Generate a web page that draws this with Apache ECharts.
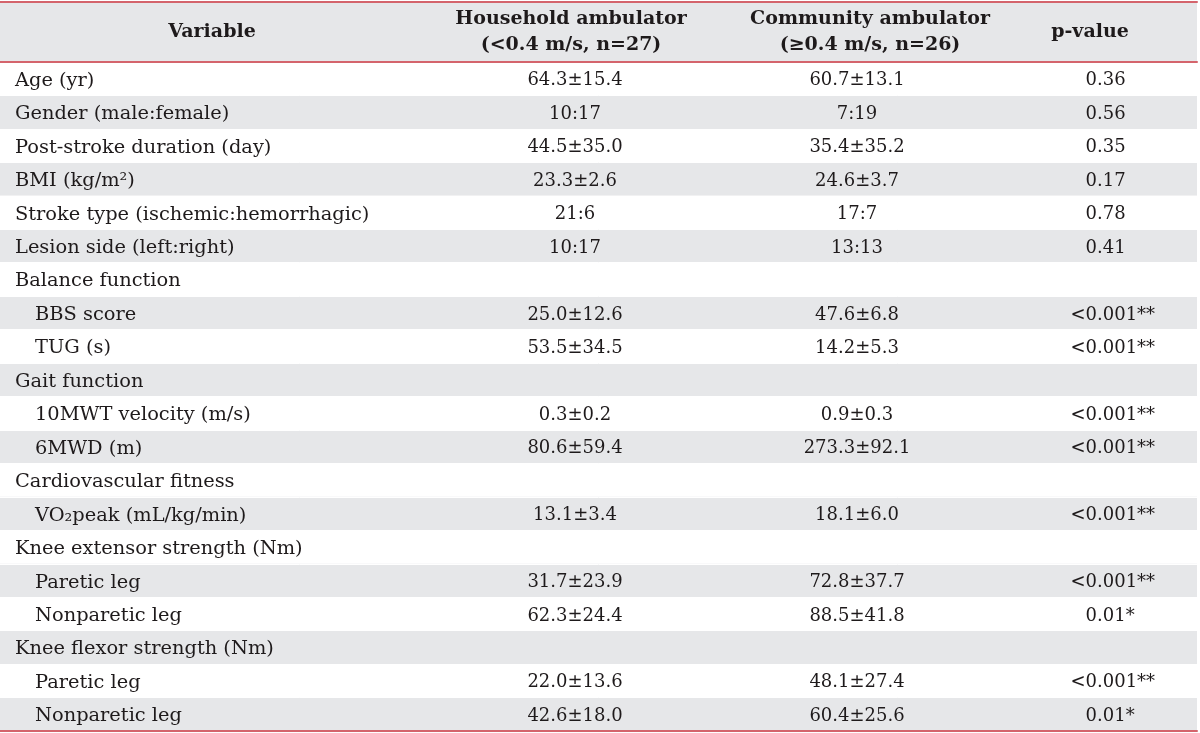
<!DOCTYPE html>
<html>
<head>
<meta charset="utf-8">
<script src="https://cdn.jsdelivr.net/npm/echarts@6/dist/echarts.min.js"></script>
<style>
html,body{margin:0;padding:0;background:#fff;}
#chart{width:1200px;height:733px;}
</style>
</head>
<body>
<div id="chart"></div>
<script>
// ---- Data ----
const headerVariable = ['Variable'];
const headerHousehold = ['Household ambulator', '(<0.4 m/s, n=27)'];
const headerCommunity = ['Community ambulator', '(≥0.4 m/s, n=26)'];
const headerPValue = ['p-value'];

const variables = [
  'Age (yr)', 'Gender (male:female)', 'Post-stroke duration (day)', 'BMI (kg/m²)',
  'Stroke type (ischemic:hemorrhagic)', 'Lesion side (left:right)', 'Balance function',
  'BBS score', 'TUG (s)', 'Gait function', '10MWT velocity (m/s)', '6MWD (m)',
  'Cardiovascular fitness', 'VO₂peak (mL/kg/min)', 'Knee extensor strength (Nm)',
  'Paretic leg', 'Nonparetic leg', 'Knee flexor strength (Nm)', 'Paretic leg', 'Nonparetic leg'
];
const indentLevel = [0,0,0,0,0,0,0,1,1,0,1,1,0,1,0,1,1,0,1,1];
const household = [
  '64.3±15.4', '10:17', '44.5±35.0', '23.3±2.6', '21:6', '10:17', '',
  '25.0±12.6', '53.5±34.5', '', '0.3±0.2', '80.6±59.4', '',
  '13.1±3.4', '', '31.7±23.9', '62.3±24.4', '', '22.0±13.6', '42.6±18.0'
];
const community = [
  '60.7±13.1', '7:19', '35.4±35.2', '24.6±3.7', '17:7', '13:13', '',
  '47.6±6.8', '14.2±5.3', '', '0.9±0.3', '273.3±92.1', '',
  '18.1±6.0', '', '72.8±37.7', '88.5±41.8', '', '48.1±27.4', '60.4±25.6'
];
const pValues = [
  '0.36', '0.56', '0.35', '0.17', '0.78', '0.41', '',
  '<0.001**', '<0.001**', '', '<0.001**', '<0.001**', '',
  '<0.001**', '', '<0.001**', '0.01*', '', '<0.001**', '0.01*'
];

// ---- Layout ----
const FONT = '"DejaVu Serif", serif';
const FS_LABEL = 19.4;
const FS_NUM = 18;
const TXT = '#1e1a1b';
const GREY = '#e6e7e9';
const RED = '#d4646c';
const X_LEFT = 15, X_INDENT = 20;
const X_HOUSE = 575, X_COMM = 857, X_PDEC = 1097;
const XH = [212, 571, 870, 1090];
const DY = 2;

const chart = echarts.init(document.getElementById('chart'), null, {renderer: 'canvas'});

function txt(x, y, s, align, bold, size) {
  return {
    type: 'text',
    style: {
      x: x, y: y, text: s, fill: TXT,
      font: (bold ? 'bold ' : '') + size + 'px ' + FONT,
      textAlign: align, textVerticalAlign: 'middle'
    }
  };
}

const headers = [headerVariable, headerHousehold, headerCommunity, headerPValue];

const option = {
  animation: false,
  backgroundColor: '#ffffff',
  grid: [
    {left: 0, right: 3, top: 2, height: 60},
    {left: 0, right: 3, top: 62, bottom: 2}
  ],
  xAxis: [
    {gridIndex: 0, type: 'value', min: 0, max: 1197, position: 'top',
      axisLine: {show: true, lineStyle: {color: RED, width: 2}},
      axisTick: {show: false}, axisLabel: {show: false}, splitLine: {show: false}},
    {gridIndex: 1, type: 'value', min: 0, max: 1197, position: 'top',
      axisLine: {show: true, lineStyle: {color: RED, width: 2}},
      axisTick: {show: false}, axisLabel: {show: false}, splitLine: {show: false}},
    {gridIndex: 1, type: 'value', min: 0, max: 1197, position: 'bottom',
      axisLine: {show: true, lineStyle: {color: RED, width: 2}},
      axisTick: {show: false}, axisLabel: {show: false}, splitLine: {show: false}}
  ],
  yAxis: [
    {gridIndex: 0, type: 'category', data: ['header'],
      axisLine: {show: false}, axisTick: {show: false}, axisLabel: {show: false},
      splitArea: {show: true, areaStyle: {color: [GREY]}}},
    {gridIndex: 1, type: 'category', data: variables.map((v, i) => i), inverse: true,
      axisLine: {show: false}, axisTick: {show: false}, axisLabel: {show: false},
      splitLine: {show: true, lineStyle: {color: '#ffffff', width: 1}},
      splitArea: {show: true, areaStyle: {color: ['#ffffff', GREY]}}}
  ],
  series: [
    {
      type: 'custom', xAxisIndex: 0, yAxisIndex: 0,
      data: [[0, 0]],
      renderItem: function (params, api) {
        const yc = api.coord([0, 0])[1];
        const children = [];
        headers.forEach(function (lines, c) {
          const x = api.coord([XH[c], 0])[0];
          const lh = 26;
          lines.forEach(function (s, k) {
            const y = yc + 0.5 + (k - (lines.length - 1) / 2) * lh;
            children.push(txt(x, y, s, 'center', true, 19));
          });
        });
        return {type: 'group', children: children};
      }
    },
    {
      type: 'custom', xAxisIndex: 1, yAxisIndex: 1,
      data: variables.map((v, i) => [0, i]),
      renderItem: function (params, api) {
        const i = api.value(1);
        const yc = api.coord([0, i])[1] + DY;
        const children = [];
        const xl = api.coord([X_LEFT + indentLevel[i] * X_INDENT, i])[0];
        children.push(txt(xl, yc, variables[i], 'left', false, FS_LABEL));
        if (household[i]) children.push(txt(api.coord([X_HOUSE, i])[0], yc, household[i], 'center', false, FS_NUM));
        if (community[i]) children.push(txt(api.coord([X_COMM, i])[0], yc, community[i], 'center', false, FS_NUM));
        if (pValues[i]) {
          const p = pValues[i];
          const k = p.indexOf('.');
          const xd = api.coord([X_PDEC, i])[0];
          children.push(txt(xd, yc, p.slice(0, k), 'right', false, FS_NUM));
          children.push(txt(xd, yc, p.slice(k), 'left', false, FS_NUM));
        }
        return {type: 'group', children: children};
      }
    }
  ]
};
chart.setOption(option);
</script>
</body>
</html>
